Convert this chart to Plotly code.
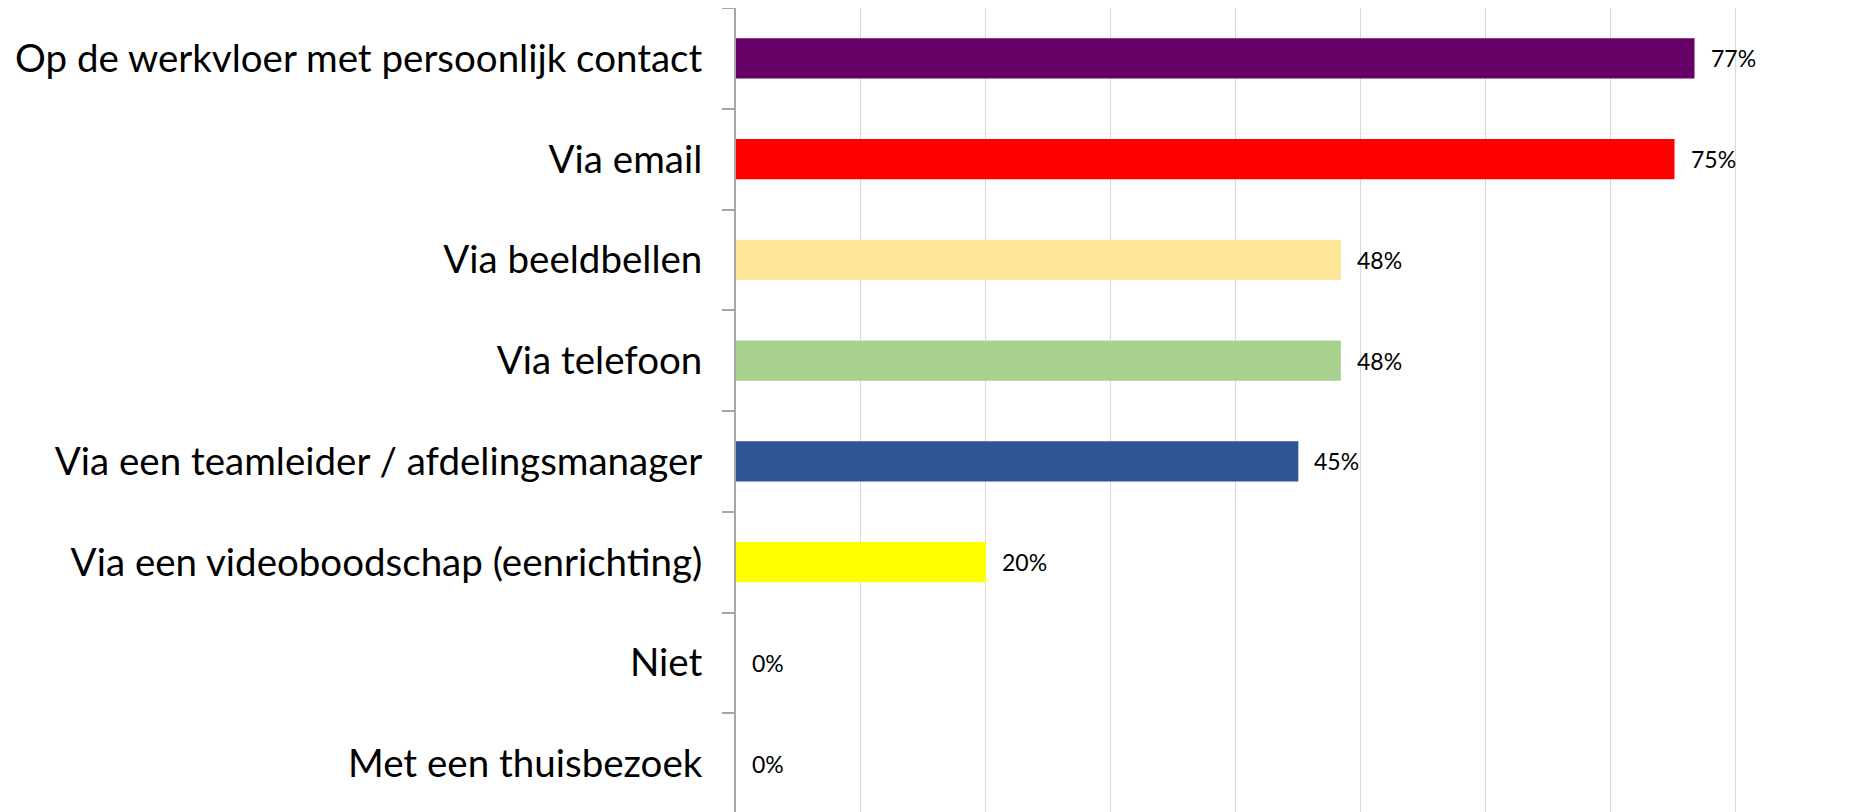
import plotly.graph_objects as go

categories = [
    "Op de werkvloer met persoonlijk contact",
    "Via email",
    "Via beeldbellen",
    "Via telefoon",
    "Via een teamleider / afdelingsmanager",
    "Via een videoboodschap (eenrichting)",
    "Niet",
    "Met een thuisbezoek",
]
values = [76.7, 75.1, 48.4, 48.4, 45.0, 20.0, 0, 0]
value_labels = ["77%", "75%", "48%", "48%", "45%", "20%", "0%", "0%"]
colors = ["#660066", "#FF0000", "#FFE699", "#A9D18E", "#2F5597", "#FFFF00", "#A6A6A6", "#A6A6A6"]
grid_ticks = [10, 20, 30, 40, 50, 60, 70, 80]

fig = go.Figure()
fig.add_trace(go.Bar(
    y=categories, x=values, orientation="h",
    marker=dict(color=colors, line=dict(width=0)),
    hoverinfo="skip",
))

for cat, v, lab in zip(categories, values, value_labels):
    fig.add_annotation(
        x=v, y=cat, text=lab, showarrow=False,
        xanchor="left", yanchor="middle", xshift=14,
        font=dict(family="Lato", size=23, color="#000000"),
    )

fig.update_layout(
    width=1859, height=812,
    margin=dict(l=728, r=130, t=0, b=6),
    paper_bgcolor="white", plot_bgcolor="white",
    bargap=0.6,
    showlegend=False,
    xaxis=dict(
        range=[0, 80.1], tickvals=grid_ticks, showticklabels=False,
        showgrid=True, gridcolor="#D9D9D9", gridwidth=1,
        zeroline=False, showline=False, fixedrange=True,
    ),
    yaxis=dict(
        autorange="reversed", tickson="boundaries",
        ticks="outside", ticklen=12, tickcolor="#A6A6A6", tickwidth=2,
        showline=True, linecolor="#A6A6A6", linewidth=2,
        showgrid=False, ticklabelstandoff=24,
        tickfont=dict(family="Lato", size=38.5, color="#000000"),
    ),
)

fig.write_html("out.html")
